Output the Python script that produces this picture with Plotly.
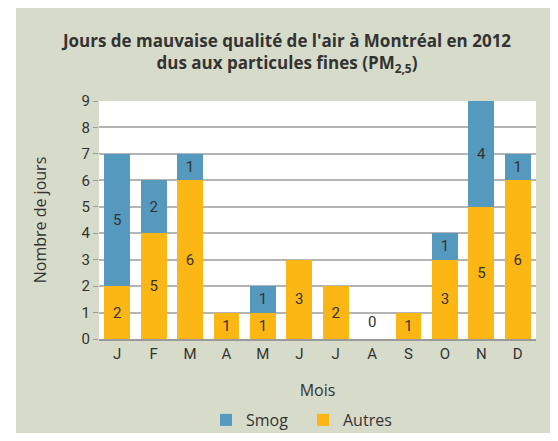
import plotly.graph_objects as go

months = ["J", "F", "M", "A", "M", "J", "J", "A", "S", "O", "N", "D"]
autres = [2, 4, 6, 1, 1, 3, 2, 0, 1, 3, 5, 6]
autres_labels = ["2", "5", "6", "1", "1", "3", "2", "0", "1", "3", "5", "6"]
smog = [5, 2, 1, 0, 1, 0, 0, 0, 0, 1, 4, 1]
smog_labels = ["5", "2", "1", "0", "1", "0", "0", "0", "0", "1", "4", "1"]
y_ticks = list(range(0, 10))

BLUE = "#5699bf"
YELLOW = "#fdb714"
PANEL = "#d7dbc9"
TXT = "#333333"

x = list(range(len(months)))

# the page body has an 8px margin: keep the whole page inside the window
OFF = 8
W, H = 558 - 2 * OFF, 441 - 2 * OFF
L, R, T, B = 99 - OFF, 536 - OFF, 101 - OFF, 339 - OFF
pw, ph = R - L, B - T


def px(xp):
    return (xp - OFF - L) / pw


def py(yp):
    return (B - (yp - OFF)) / ph


lab_font = dict(family="Roboto", size=15, color=TXT)

fig = go.Figure()
fig.add_trace(go.Bar(
    x=x, y=[v if v > 0 else None for v in autres], name="Autres",
    marker_color=YELLOW, marker_line_width=0,
    text=[t if v > 0 else None for t, v in zip(autres_labels, autres)],
    textposition="inside", insidetextanchor="middle",
    textangle=0, textfont=lab_font,
))
fig.add_trace(go.Bar(
    x=x, y=[v if v > 0 else None for v in smog], name="Smog",
    marker_color=BLUE, marker_line_width=0,
    text=[t if v > 0 else None for t, v in zip(smog_labels, smog)],
    textposition="inside", insidetextanchor="middle",
    textangle=0, textfont=lab_font,
))

# labels for zero-height bars (both series zero)
for i, (a, s, t) in enumerate(zip(autres, smog, autres_labels)):
    if a == 0 and s == 0:
        fig.add_annotation(x=i, y=0, text=t, showarrow=False, yanchor="bottom",
                           yshift=6, font=lab_font)

# white outer strip on the left
fig.add_shape(type="rect", xref="paper", yref="paper", x0=px(-20), x1=px(16), y0=py(480), y1=py(-20),
              fillcolor="white", line_width=0, layer="above")

fig.update_layout(
    width=W, height=H,
    margin=dict(l=L, r=W - R, t=T, b=H - B, pad=0, autoexpand=False),
    paper_bgcolor=PANEL, plot_bgcolor="white",
    barmode="stack", bargap=0.29,
    font=dict(family="Roboto", color=TXT, size=14),
    title=dict(
        text="<b>Jours de mauvaise qualité de l'air à Montréal en 2012<br>dus aux particules fines (PM<sub>2,5</sub>)</b>",
        x=(287 - OFF) / W, xanchor="center", y=1 - (47 - OFF) / H, yanchor="middle",
        font=dict(family="Open Sans", size=17, color=TXT),
    ),
    xaxis=dict(
        tickmode="array", tickvals=x, ticktext=months, range=[-0.5, 11.5],
        showgrid=False, showline=True, linecolor="#9a9a9a", linewidth=1.5,
        ticks="", tickfont=dict(size=15, color=TXT), automargin=False,
        title=dict(text="Mois", font=dict(family="Open Sans", size=16, color=TXT), standoff=23),
    ),
    yaxis=dict(
        range=[0, 9], tickvals=y_ticks, showgrid=True, gridcolor="#b4b4b4", gridwidth=1.5,
        zeroline=False, showline=False, ticks="outside", ticklen=5, tickcolor="#9a9a9a",
        tickfont=dict(size=15, color=TXT), automargin=False,
        title=dict(text="Nombre de jours", font=dict(family="Open Sans", size=16, color=TXT), standoff=30),
    ),
    legend=dict(
        orientation="h", xref="container", yref="container",
        x=(206 - OFF) / W, xanchor="left", y=1 - (420 - OFF) / H, yanchor="middle",
        traceorder="reversed", font=dict(family="Open Sans", size=16, color=TXT),
        bgcolor="rgba(0,0,0,0)", entrywidth=52, entrywidthmode="pixels",
    ),
    showlegend=True,
)

fig.write_html("out.html")
